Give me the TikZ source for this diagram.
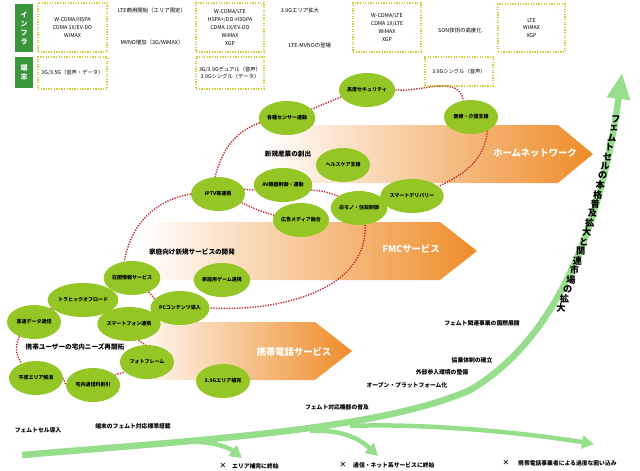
\documentclass[tikz,border=0pt]{standalone}
\usepackage{fontspec}
\setmainfont{Noto Sans CJK JP}
\newfontfamily\dejavu{DejaVu Sans}
\usetikzlibrary{shapes.geometric,arrows.meta}
\definecolor{egreen}{RGB}{148,198,38}
\definecolor{lgreen}{RGB}{150,222,140}
\definecolor{dgreen}{RGB}{58,150,58}
\definecolor{orng}{RGB}{238,140,40}
\definecolor{rdot}{RGB}{200,40,45}
\definecolor{ybox}{RGB}{205,210,60}
\pgfdeclarelayer{bg}
\pgfsetlayers{bg,main}
\begin{document}
\begin{tikzpicture}[x=1pt,y=-1pt,
 ell/.style={ellipse,fill=egreen,minimum width=54pt,minimum height=34pt,inner sep=0pt,font=\fontsize{5}{6}\selectfont\bfseries},
 conn/.style={draw=rdot,line width=1.4pt,dash pattern=on 1.3pt off 1.3pt},
 dbox/.style={draw=ybox,line width=1.3pt,dash pattern=on 1.3pt off 1.3pt,align=center,inner sep=0pt,font=\fontsize{5.3}{7.8}\selectfont},
 tinfo/.style={font=\fontsize{5.4}{7}\selectfont,inner sep=0pt},
 blab/.style={font=\fontsize{5.8}{7}\selectfont\bfseries,inner sep=0pt},
 mlab/.style={font=\fontsize{6.6}{8}\selectfont\bfseries,inner sep=0pt},
 alab/.style={font=\fontsize{9.3}{11}\selectfont\bfseries,text=white,inner sep=0pt},
 gbox/.style={fill=dgreen,text=white,align=center,inner sep=0pt,font=\fontsize{7}{9}\selectfont\bfseries,minimum width=18pt},
 garr/.style={draw=lgreen,line width=6.5pt,-{Triangle[length=26pt,width=22pt]}},
 gbr/.style={draw=lgreen,line width=4.5pt,-{Triangle[length=12pt,width=13pt]}},
 vt/.style={font=\fontsize{9.2}{9.2}\selectfont\bfseries,inner sep=0pt},
 xm/.style={font=\dejavu\fontsize{8}{8}\selectfont\bfseries,inner sep=0pt}
]
\useasboundingbox (0,0) rectangle (640,471);
\begin{pgfonlayer}{bg}
\fill[white] (0,0) rectangle (640,471);
\shade[left color=white,right color=orng] (260,125) -- (558,125) -- (593,154) -- (558,183) -- (260,183) -- cycle;
\shade[left color=white,right color=orng] (140,222) -- (440,222) -- (477,251) -- (440,280) -- (140,280) -- cycle;
\shade[left color=white,right color=orng] (130,322) -- (315,322) -- (352,351) -- (315,380) -- (130,380) -- cycle;
\draw[gbr] (178,442) .. controls (210,440) and (228,447) .. (242,458);
\draw[gbr] (310,431) .. controls (345,429) and (362,441) .. (378,456);
\draw[gbr] (350,426) .. controls (420,423) and (520,432) .. (594,444);
\draw[garr] (22,455) .. controls (200,440) and (380,430) .. (470,390) .. controls (565,335) and (604,205) .. (622,73);
\end{pgfonlayer}

% left labels
\node[gbox,minimum height=48pt] (g1) at (24,28) {イ\\ン\\フ\\ラ};
\node[gbox,minimum height=31pt] (g2) at (24,72.5) {端\\末};

% dotted boxes
\node[dbox,minimum width=69pt,minimum height=49pt] (b1) at (72.5,27.5) {W-CDMA/HSPA\\CDMA 1X/EV-DO\\WiMAX};
\node[dbox,minimum width=69pt,minimum height=32pt] (b2) at (72.5,73) {3G/3.5G（音声・データ）};
\node[dbox,minimum width=68pt,minimum height=49pt] (b3) at (230,27.5) {W-CDMA/LTE\\HSPA+/DO-HSDPA\\CDMA 1X/EV-DO\\WiMAX\\XGP};
\node[dbox,minimum width=68pt,minimum height=32pt] (b4) at (230,73) {3G/3.9Gデュアル（音声）\\3.9Gシングル（データ）};
\node[dbox,minimum width=68pt,minimum height=49pt] (b5) at (387,27.5) {W-CDMA/LTE\\CDMA 1X/LTE\\WiMAX\\XGP};
\node[dbox,minimum width=68pt,minimum height=29pt] (b6) at (459,71.5) {3.9Gシングル（音声）};
\node[dbox,minimum width=67pt,minimum height=48pt] (b7) at (531.5,28) {LTE\\WiMAX\\XGP};

% top texts
\node[tinfo] (t1) at (152,10) {LTE商用開始（エリア限定）};
\node[tinfo] (t2) at (152,43) {MVNO増加（3G/WiMAX）};
\node[tinfo] (t3) at (300,10) {3.9Gエリア拡大};
\node[tinfo] (t4) at (310,45) {LTE-MVNOの登場};
\node[tinfo] (t5) at (460,30) {SON技術の高度化};

% ellipses
\node[ell] (e1) at (367,90) {高度セキュリティ};
\node[ell] (e2) at (287,118) {各種センサー連動};
\node[ell] (e3) at (471,117) {医療・介護支援};
\node[ell] (e4) at (343,165) {ヘルスケア支援};
\node[ell] (e5) at (283,185) {AV機器制御・連動};
\node[ell] (e6) at (218,194) {IPTV等連携};
\node[ell] (e7) at (412,196) {スマートデリバリー};
\node[ell] (e8) at (301,220) {広告メディア融合};
\node[ell] (e9) at (359,208) {白モノ・住設制御};
\node[ell] (e10) at (132,278) {在圏情報サービス};
\node[ell] (e11) at (222,280) {家庭用ゲーム連携};
\node[ell,minimum width=58pt] (e12) at (83,300) {トラヒックオフロード};
\node[ell] (e13) at (180,308) {PCコンテンツ導入};
\node[ell] (e14) at (34,322) {高速データ通信};
\node[ell] (e15) at (129,324) {スマートフォン連携};
\node[ell] (e16) at (147,362) {フォトフレーム};
\node[ell] (e17) at (36,378) {不感エリア解消};
\node[ell] (e18) at (93,385) {宅内通信料割引};
\node[ell] (e19) at (223,381) {3.9Gエリア補完};

% connectors
\begin{pgfonlayer}{bg}
\draw[conn] (e1.195) -- (e2.20);
\draw[conn] (e1.east) to[out=-5,in=100] (e3.115);
\draw[conn] (e3.-40) to[out=-95,in=25] (e7.20);
\draw[conn] (e9.10) -- (e7.190);
\draw[conn] (e9.-70) .. controls (368,290) and (280,312) .. (e13.east);
\draw[conn] (e5.-10) to[bend left=8] (e9.150);
\draw[conn] (e6.10) -- (e5.190);
\draw[conn] (e6.-20) to[bend right=5] (e8.170);
\draw[conn] (e2.190) to[out=200,in=75] (e6.100);
\draw[conn] (e6.180) to[out=190,in=80] (e10.115);
\draw[conn] (e10.-40) -- (e13.160);
\draw[conn] (e12.-20) -- (e15.150);
\draw[conn] (e14.40) -- (e12.200);
\draw[conn] (e14.225) to[bend right=30] (e17.135);
\draw[conn] (e17.east) -- (e18.west);
\draw[conn] (e18.25) -- (e16.205);
\draw[conn] (e15.-60) -- (e16.95);
\end{pgfonlayer}

% mid labels
\node[mlab] (m1) at (288,154) {新規産業の創出};
\node[mlab] (m2) at (192,252) {家庭向け新規サービスの開発};
\node[mlab] (m3) at (75,347) {携帯ユーザーの宅内ニーズ再開拓};

% arrow labels
\node[alab] (a1) at (535,153) {ホームネットワーク};
\node[alab] (a2) at (411,249) {FMCサービス};
\node[alab] (a3) at (294,352) {携帯電話サービス};

% bottom labels
\node[blab] (l1) at (38,430) {フェムトセル導入};
\node[blab] (l2) at (133,426) {端末のフェムト対応標準搭載};
\node[blab] (l3) at (337,407) {フェムト対応機器の普及};
\node[blab] (l4) at (407,385) {オープン・プラットフォーム化};
\node[blab] (l5) at (442,372) {外部参入環境の整備};
\node[blab] (l6) at (472,360) {協業体制の確立};
\node[blab] (l7) at (482,323) {フェムト関連事業の国際展開};

\node[xm] (x1) at (223,466) {✕};
\node[blab,anchor=west] (x1t) at (232,466) {エリア補完に終始};
\node[xm] (x2) at (343,465) {✕};
\node[blab,anchor=west] (x2t) at (353,465) {通信・ネット系サービスに終始};
\node[xm] (x3) at (506,463) {✕};
\node[blab,anchor=west] (x3t) at (518,463) {携帯電話事業者による過度な囲い込み};

% vertical text along the green arrow
\foreach \c [count=\i from 0] in {フ,ェ,ム,ト,セ,ル,の,本,格,普,及,拡,大,と,関,連,市,場,の,拡,大}
  \node[vt] (v\i) at ({616-\i*2.75+4*sin(9*\i)},{119+\i*9.45}) {\c};
\end{tikzpicture}
\end{document}
